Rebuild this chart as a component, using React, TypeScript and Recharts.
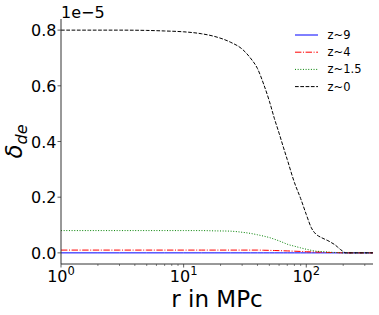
import React from 'react';
import { LineChart, Line, XAxis, YAxis } from 'recharts';

const radius = [1, 2, 3, 5, 7, 10, 14, 18, 24, 30, 35, 40, 45, 50, 55, 60, 65, 70, 80, 90, 100, 110, 120, 130, 140, 150, 160, 170, 180, 190, 200, 210, 250, 300, 350];

const z9 = [0, 0, 0, 0, 0, 0, 0, 0, 0, 0, 0, 0, 0, 0, 0, 0, 0, 0, 0, 0, 0, 0, 0, 0, 0, 0, 0, 0, 0, 0, 0, 0, 0, 0, 0];
const z4 = [0.010, 0.010, 0.010, 0.010, 0.010, 0.010, 0.010, 0.010, 0.010, 0.010, 0.010, 0.010, 0.0095, 0.009, 0.0085, 0.008, 0.0075, 0.007, 0.006, 0.005, 0.004, 0.0035, 0.003, 0.0025, 0.002, 0.0015, 0.0012, 0.001, 0.0007, 0.0004, 0, 0, 0, 0, 0];
const z15 = [0.080, 0.080, 0.080, 0.080, 0.080, 0.080, 0.080, 0.079, 0.078, 0.074, 0.070, 0.065, 0.060, 0.055, 0.049, 0.043, 0.037, 0.031, 0.024, 0.018, 0.013, 0.009, 0.006, 0.005, 0.004, 0.003, 0.002, 0.0015, 0.001, 0.0005, 0, 0, 0, 0, 0];
const z0 = [0.800, 0.800, 0.800, 0.799, 0.797, 0.794, 0.787, 0.777, 0.757, 0.732, 0.700, 0.662, 0.605, 0.545, 0.482, 0.430, 0.380, 0.335, 0.253, 0.195, 0.138, 0.090, 0.067, 0.057, 0.050, 0.044, 0.037, 0.030, 0.021, 0.012, 0.005, 0, 0, 0, 0];

const seriesNames = ['z~9', 'z~4', 'z~1.5', 'z~0'];
const seriesKeys = ['z9', 'z4', 'z15', 'z0'];
const seriesColors = ['#0000ff', '#ff0000', '#008000', '#000000'];
const seriesDash = [undefined, '6.4 1.6 1 1.6', '1 1.65', '3.7 1.6'];

const xMajorTicks = [1, 10, 100];
const xMinorTicks = [2, 3, 4, 5, 6, 7, 8, 9, 20, 30, 40, 50, 60, 70, 80, 90, 200, 300];
const xExponents = ['0', '1', '2'];
const yTicks = [0, 0.2, 0.4, 0.6, 0.8];
const yTickLabels = ['0.0', '0.2', '0.4', '0.6', '0.8'];
const xDomain = [1, 350];
const yDomain = [-0.04, 0.84];

const data = radius.map((r, i) => ({ r, z9: z9[i], z4: z4[i], z15: z15[i], z0: z0[i] }));

const FONT = 'DejaVu Sans, sans-serif';
const AXIS = '#333';

const XTick = (props: any) => {
  const { x, y, payload } = props;
  const v = payload.value;
  const mi = xMajorTicks.indexOf(v);
  if (mi >= 0) {
    return (
      <g>
        <line x1={x} x2={x} y1={y} y2={y + 3.5} stroke={AXIS} strokeWidth={0.8} />
        <text x={x} y={y + 18} textAnchor="middle" fontFamily={FONT} fontSize={16} fill="#000">
          10<tspan dy={-7} fontSize={11.5}>{xExponents[mi]}</tspan>
        </text>
      </g>
    );
  }
  return <line x1={x} x2={x} y1={y} y2={y + 2} stroke={AXIS} strokeWidth={0.6} />;
};

const YTick = (props: any) => {
  const { x, y, payload } = props;
  const idx = yTicks.indexOf(payload.value);
  return (
    <g>
      <line x1={x - 3.5} x2={x} y1={y} y2={y} stroke={AXIS} strokeWidth={0.8} />
      <text x={x - 4.5} y={y + 6} textAnchor="end" fontFamily={FONT} fontSize={16} fill="#000">
        {idx >= 0 ? yTickLabels[idx] : ''}
      </text>
    </g>
  );
};

const YLabel = (props: any) => {
  const vb = props.viewBox || { x: 0, y: 19, width: 61, height: 245 };
  const cx = 15;
  const cy = vb.y + vb.height / 2;
  return (
    <g>
      <text
        transform={`translate(${cx + 7},${cy}) rotate(-90)`}
        textAnchor="middle"
        fontFamily={FONT}
        fontSize={23}
        fill="#000"
      >
        <tspan fontStyle="italic">δ</tspan>
        <tspan dy={5} fontSize={16} fontStyle="italic">de</tspan>
      </text>
      <text x={vb.x + vb.width} y={18} textAnchor="start" fontFamily={FONT} fontSize={16} fill="#000">
        1e−5
      </text>
    </g>
  );
};

const XLabel = (props: any) => {
  const vb = props.viewBox || { x: 61, y: 264, width: 312, height: 51 };
  return (
    <text x={vb.x + vb.width / 2} y={vb.y + 42.5} textAnchor="middle" fontFamily={FONT} fontSize={23} fill="#000">
      r in MPc
    </text>
  );
};

const LegendBox = () => (
  <svg width={84} height={72} style={{ display: 'block', position: 'absolute', left: 295, top: 27 }}>
    {seriesNames.map((name, i) => {
      const cy = 8 + i * 17.2;
      return (
        <g key={name}>
          <line x1={0} x2={23} y1={cy} y2={cy} stroke={seriesColors[i]} strokeWidth={1} strokeDasharray={seriesDash[i]} />
          <text x={32.5} y={cy + 4} fontFamily={FONT} fontSize={11.5} fill="#000">
            {name}
          </text>
        </g>
      );
    })}
  </svg>
);

export default function App() {
  return (
    <div style={{ position: 'absolute', left: 0, top: 0, width: 379, height: 315, background: '#fff' }}>
      <LineChart width={379} height={315} data={data} margin={{ top: 19, right: 6, bottom: 0, left: 0 }}>
        <XAxis
          dataKey="r"
          type="number"
          scale="log"
          domain={xDomain}
          allowDataOverflow
          ticks={[...xMajorTicks, ...xMinorTicks]}
          interval={0}
          tick={<XTick />}
          tickLine={false}
          tickSize={0}
          tickMargin={0}
          height={51}
          axisLine={{ stroke: AXIS, strokeWidth: 1 }}
          label={<XLabel />}
        />
        <XAxis
          xAxisId="top"
          dataKey="r"
          orientation="top"
          type="number"
          scale="log"
          domain={xDomain}
          allowDataOverflow
          tick={false}
          tickLine={false}
          height={0}
          axisLine={{ stroke: AXIS, strokeWidth: 1 }}
        />
        <YAxis
          type="number"
          domain={yDomain}
          allowDataOverflow
          ticks={yTicks}
          interval={0}
          tick={<YTick />}
          tickLine={false}
          tickSize={0}
          tickMargin={0}
          width={61}
          axisLine={{ stroke: AXIS, strokeWidth: 1 }}
          label={<YLabel />}
        />
        <YAxis
          yAxisId="right"
          orientation="right"
          type="number"
          domain={yDomain}
          allowDataOverflow
          tick={false}
          tickLine={false}
          width={0}
          axisLine={{ stroke: AXIS, strokeWidth: 1 }}
        />
        {seriesKeys.map((k, i) => (
          <Line
            key={k}
            dataKey={k}
            name={seriesNames[i]}
            type="monotone"
            stroke={seriesColors[i]}
            strokeWidth={1}
            strokeDasharray={seriesDash[i]}
            dot={false}
            activeDot={false}
            isAnimationActive={false}
          />
        ))}
      </LineChart>
      <LegendBox />
    </div>
  );
}
